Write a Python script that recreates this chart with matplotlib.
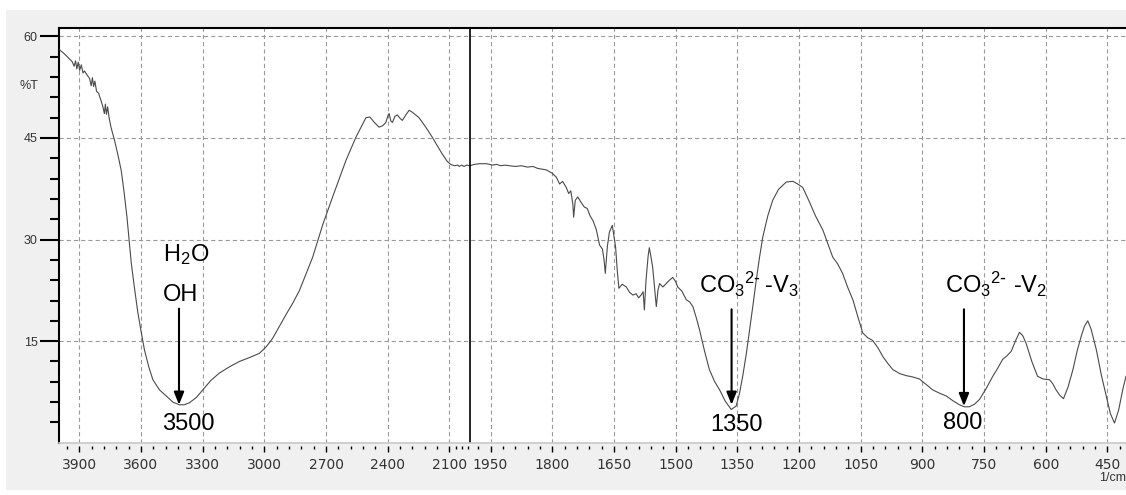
import numpy as np
import matplotlib
matplotlib.use("Agg")
import matplotlib.pyplot as plt
from matplotlib.patches import Rectangle
from matplotlib.ticker import FixedLocator, NullFormatter, FuncFormatter

plt.rcParams['lines.scale_dashes'] = False
plt.rcParams['mathtext.default'] = 'regular'

# FTIR spectrum (%T vs wavenumber)
wavenumber = [
    3995, 3975, 3955, 3935, 3925, 3918, 3912, 3905, 3898, 3890, 3882, 3875, 3862, 3850,
    3842, 3836, 3830, 3824, 3816, 3806, 3795, 3785, 3778, 3773, 3768, 3762, 3755, 3745,
    3728, 3712, 3696, 3682, 3668, 3647, 3630, 3615, 3598, 3583, 3562, 3542, 3510, 3477,
    3445, 3413, 3390, 3364, 3330, 3299, 3260, 3218, 3170, 3121, 3070, 3024, 2990, 2960,
    2895, 2862, 2829, 2765, 2716, 2668, 2603, 2555, 2506, 2487, 2465,
    2442, 2425, 2409, 2398, 2393, 2385, 2377, 2365, 2353, 2340, 2329, 2312, 2296, 2280,
    2248, 2215, 2183, 2160, 2134, 2112, 2094, 2075, 2060, 2053, 2040, 2030, 2015, 2000,
    1990, 1977, 1960, 1945, 1935, 1925, 1915, 1904, 1890, 1875, 1860, 1847, 1835, 1825,
    1815, 1800, 1790, 1782, 1775, 1766, 1760, 1755, 1750, 1748, 1744, 1738, 1730, 1722,
    1715, 1708, 1701, 1693, 1685, 1678, 1674, 1671, 1666, 1661, 1654, 1650, 1646, 1642,
    1638, 1630, 1620, 1612, 1604, 1596, 1590, 1584, 1579, 1576, 1572, 1567, 1564, 1561,
    1556, 1551, 1547, 1543, 1539, 1531, 1523, 1515, 1507, 1500, 1495, 1485, 1474, 1466,
    1458, 1450, 1442, 1430, 1418, 1405, 1393, 1380, 1365, 1353, 1345, 1337, 1328, 1320,
    1312, 1304, 1296, 1288, 1276, 1264, 1250, 1231, 1215, 1203, 1191, 1175, 1160, 1142,
    1130, 1118, 1106, 1094, 1082, 1069, 1057, 1045, 1033, 1021, 1008, 996, 984, 972,
    955, 939, 923, 907, 891, 875, 858, 842, 826, 810, 798, 786, 773, 761,
    745, 729, 717, 705, 695, 684, 674, 664, 656, 648, 634, 620, 606, 591,
    583, 575, 566, 557, 546, 534, 524, 514, 506, 498, 490, 477, 465, 453,
    443, 433, 423, 413, 405]
transmittance = [
    58.0, 57.5, 56.9, 56.3, 55.6, 56.4, 55.2, 56.2, 55.0, 55.8, 54.6, 54.9, 54.3, 53.8,
    52.7, 53.9, 52.6, 53.4, 51.9, 51.6, 50.6, 49.6, 48.6, 50.0, 48.5, 49.6, 48.0, 46.5,
    44.6, 42.5, 40.2, 37.0, 33.3, 26.5, 22.5, 19.2, 16.2, 13.7, 11.2, 9.3, 7.8, 6.9,
    6.0, 5.6, 5.6, 5.9, 6.7, 7.8, 9.2, 10.3, 11.2, 12.0, 12.6, 13.2, 14.2, 15.4,
    18.9, 20.6, 22.5, 27.4, 32.2, 36.3, 41.7, 45.1, 48.0, 48.1, 47.3,
    46.6, 46.8, 47.3, 48.4, 48.6, 47.5, 47.3, 48.2, 48.4, 47.9, 47.6, 48.4, 49.1, 48.8,
    48.0, 46.6, 45.1, 43.9, 42.6, 41.6, 41.1, 40.9, 41.0, 40.8, 41.0, 40.8, 41.0, 40.9,
    41.1, 41.2, 41.2, 41.0, 41.1, 40.9, 41.0, 40.9, 40.8, 40.9, 40.7, 40.8, 40.5, 40.4,
    40.3, 39.8, 39.2, 38.2, 38.6, 37.7, 36.8, 37.2, 35.3, 33.3, 35.8, 36.3, 35.5, 34.8,
    34.6, 33.5, 32.8, 31.5, 29.2, 28.6, 27.0, 25.0, 29.0, 31.1, 32.1, 30.5, 28.9, 25.5,
    22.8, 23.4, 23.0, 22.2, 21.8, 22.0, 21.4, 21.8, 22.3, 19.6, 24.0, 27.5, 28.8, 27.8,
    26.0, 22.8, 20.1, 22.5, 23.5, 23.0, 23.5, 24.0, 24.4, 23.8, 23.0, 22.4, 21.1, 20.8,
    20.1, 18.5, 16.7, 13.6, 10.8, 9.0, 7.8, 6.2, 4.9, 5.4, 7.2, 9.8, 13.2, 16.7,
    20.3, 24.0, 27.4, 30.4, 33.5, 35.8, 37.4, 38.5, 38.6, 38.2, 37.7, 35.6, 33.5, 31.4,
    29.4, 27.4, 26.4, 25.0, 23.0, 21.1, 18.6, 16.2, 15.5, 15.1, 14.0, 12.7, 11.7, 10.8,
    10.2, 9.9, 9.7, 9.4, 8.6, 7.8, 7.3, 6.9, 6.2, 5.6, 5.3, 5.3, 5.7, 6.4,
    8.0, 9.8, 11.0, 12.3, 12.8, 13.5, 15.0, 16.3, 15.8, 14.7, 12.0, 9.8, 9.4, 9.3,
    8.7, 7.8, 7.0, 6.5, 8.2, 10.8, 13.5, 15.7, 17.2, 18.0, 16.8, 13.7, 10.0, 6.9,
    4.3, 2.9, 4.8, 7.8, 9.8]

major_x = [3900, 3600, 3300, 3000, 2700, 2400, 2100,
           1950, 1800, 1650, 1500, 1350, 1200, 1050, 900, 750, 600, 450]
minor_x = ([v for v in range(3960, 2040, -60) if v not in major_x] + [2070, 2040, 2010]
           + [v for v in range(1980, 400, -30) if v not in major_x])
major_y = [15, 30, 45, 60]
minor_y = [v for v in range(3, 61, 3) if v not in major_y]

# annotations: (text, x, y) and arrows (x, y tail, y tip)
labels = [("H$_2$O", 3495, 26.8), ("OH", 3495, 21.0), ("3500", 3495, 1.9),
          (r"CO$_3$$^{2\text{-}}\,$-V$_3$", 1443, 22.1), ("1350", 1417, 1.7),
          (r"CO$_3$$^{2\text{-}}$ -V$_2$", 845, 22.1), ("800", 851, 2.0)]
arrows = [(3415, 19.8, 5.6), (1364, 19.7, 5.6), (799, 19.7, 5.4)]


# wavenumbers above 2000 are drawn at half scale
def fwd(x):
    x = np.asarray(x, dtype=float)
    return np.where(x > 2000, 2000 + (x - 2000) / 2, x)


def inv(u):
    u = np.asarray(u, dtype=float)
    return np.where(u > 2000, 2000 + (u - 2000) * 2, u)


W, H = 1126, 495
fig = plt.figure(figsize=(W / 100, H / 100), dpi=100, facecolor='white')
fig.patches.append(Rectangle((6 / W, 1 - 490 / H), 1, (490 - 10) / H,
                             transform=fig.transFigure, facecolor='#f0f0f0',
                             edgecolor='none', zorder=-5))
ax = fig.add_axes([58.7 / W, 1 - 442.7 / H, (1126 - 58.7) / W, (442.7 - 28.3) / H])
ax.set_zorder(2)
ax.set_facecolor('white')
ax.set_xscale('function', functions=(fwd, inv))
ax.set_xlim(4000, 405)
ax.set_ylim(0, 61.2)

ax.plot(wavenumber, transmittance, color='#4a4a4a', lw=0.8, zorder=3)
ax.axvline(2000, color='black', lw=1.2, zorder=4)

ax.xaxis.set_major_locator(FixedLocator(major_x))
ax.xaxis.set_minor_locator(FixedLocator(minor_x))
ax.xaxis.set_major_formatter(FuncFormatter(lambda v, p: '%d' % round(v)))
ax.xaxis.set_minor_formatter(NullFormatter())
ax.yaxis.set_major_locator(FixedLocator(major_y))
ax.yaxis.set_minor_locator(FixedLocator(minor_y))

ax.grid(True, which='major', color='#999999', lw=0.8, linestyle=(0, (3, 2.2)))

tick_family = ['Liberation Sans', 'DejaVu Sans']
tick_size = 9
ax.tick_params(axis='y', which='major', direction='out', length=13.5, width=1.5,
               color='black', pad=1.5, labelcolor='#333333')
ax.tick_params(axis='y', which='minor', direction='out', length=6.8, width=1.5, color='black')
ax.tick_params(axis='x', which='major', direction='out', length=4.3, width=1.0,
               color='black', pad=4, labelcolor='#333333')
ax.tick_params(axis='x', which='minor', direction='out', length=2.2, width=1.0, color='black')
for lab in ax.get_xticklabels() + ax.get_yticklabels():
    lab.set_fontfamily(tick_family)
    lab.set_fontsize(tick_size)

ax.spines['right'].set_visible(False)
ax.spines['top'].set_linewidth(1.5)
ax.spines['left'].set_linewidth(1.5)
ax.spines['bottom'].set_position(('outward', 2.5))
ax.spines['bottom'].set_color('none')
ax.axhline(0, color='#c8c8c8', lw=1.2, clip_on=False, zorder=5)

fig.text(29 / W, 1 - 86 / H, '%T', ha='center', va='center', color='#333333',
         family=tick_family, size=tick_size)
fig.text(1126 / W, 1 - 478 / H, '1/cm', ha='right', va='center', color='#333333',
         family=tick_family, size=tick_size)

ann_font = dict(family=['Liberation Sans', 'DejaVu Sans'], size=17, color='black')
for txt, x, y in labels:
    ax.text(x, y, txt, ha='left', va='baseline', zorder=6, **ann_font)
for x, y0, y1 in arrows:
    ax.annotate('', xy=(x, y1), xytext=(x, y0), zorder=6,
                arrowprops=dict(arrowstyle='-|>,head_length=0.75,head_width=0.3',
                                color='black', lw=1.5, shrinkA=0, shrinkB=0))

fig.savefig('out.png', dpi=100, facecolor=fig.get_facecolor())
